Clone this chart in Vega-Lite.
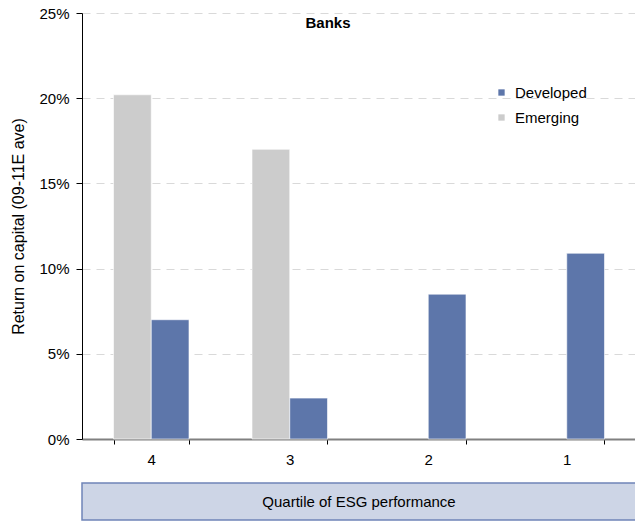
{
  "$schema": "https://vega.github.io/schema/vega-lite/v6.json",
  "padding": {"left": 10, "top": 6, "right": 0, "bottom": 1},
  "background": "white",
  "config": {
    "font": "Liberation Sans",
    "view": {"stroke": null},
    "axis": {"labelColor": "black", "titleColor": "black", "labelFont": "Liberation Sans", "titleFont": "Liberation Sans"}
  },
  "datasets": {
    "banks": [
      {"quartile": "4", "region": "Emerging", "value": 0.202},
      {"quartile": "4", "region": "Developed", "value": 0.070},
      {"quartile": "3", "region": "Emerging", "value": 0.170},
      {"quartile": "3", "region": "Developed", "value": 0.024},
      {"quartile": "2", "region": "Developed", "value": 0.085},
      {"quartile": "1", "region": "Developed", "value": 0.109}
    ],
    "caption": [{"label": "Quartile of ESG performance"}]
  },
  "bounds": "flush",
  "spacing": 44,
  "vconcat": [
    {
      "width": 554,
      "height": 426,
      "title": {"text": "Banks", "fontSize": 15, "fontWeight": "bold", "color": "black", "anchor": "middle", "frame": "group", "dx": -31, "offset": -25},
      "data": {"name": "banks"},
      "mark": {"type": "bar", "stroke": "white", "strokeWidth": 0.6},
      "encoding": {
        "x": {
          "field": "quartile", "type": "nominal", "sort": ["4", "3", "2", "1"],
          "scale": {"paddingInner": 0.455, "paddingOuter": 0.2275},
          "axis": {"title": null, "labelAngle": 0, "labelFontSize": 15, "tickBand": "extent", "tickSize": 5, "tickColor": "black", "domainColor": "#808080", "domainWidth": 2, "labelPadding": 8}
        },
        "xOffset": {"field": "region", "type": "nominal", "sort": ["Emerging", "Developed"]},
        "y": {
          "field": "value", "type": "quantitative",
          "scale": {"domain": [0, 0.25], "nice": false},
          "axis": {"title": "Return on capital (09-11E ave)", "titleFontSize": 16, "titleFontWeight": "normal", "titlePadding": 12, "values": [0, 0.05, 0.1, 0.15, 0.2, 0.25], "format": ".0%", "labelFontSize": 15, "labelPadding": 7, "tickSize": 6, "tickColor": "black", "domainColor": "black", "grid": true, "gridColor": "#D9D9D9", "gridDash": [8, 6]}
        },
        "color": {
          "field": "region", "type": "nominal",
          "scale": {"domain": ["Developed", "Emerging"], "range": ["#5D76AA", "#CCCCCC"]},
          "legend": {"title": null, "orient": "none", "legendX": 412, "legendY": 72, "labelFontSize": 15, "labelColor": "black", "symbolType": "square", "symbolSize": 40, "symbolStrokeWidth": 0, "rowPadding": 9, "labelOffset": 6}
        }
      }
    },
    {
      "width": 554,
      "height": 37,
      "view": {"fill": "#CDD5E6", "stroke": "#6F84B8", "strokeWidth": 1.5},
      "data": {"name": "caption"},
      "mark": {"type": "text", "fontSize": 15, "color": "black", "font": "Liberation Sans"},
      "encoding": {"text": {"field": "label", "type": "nominal"}}
    }
  ]
}
